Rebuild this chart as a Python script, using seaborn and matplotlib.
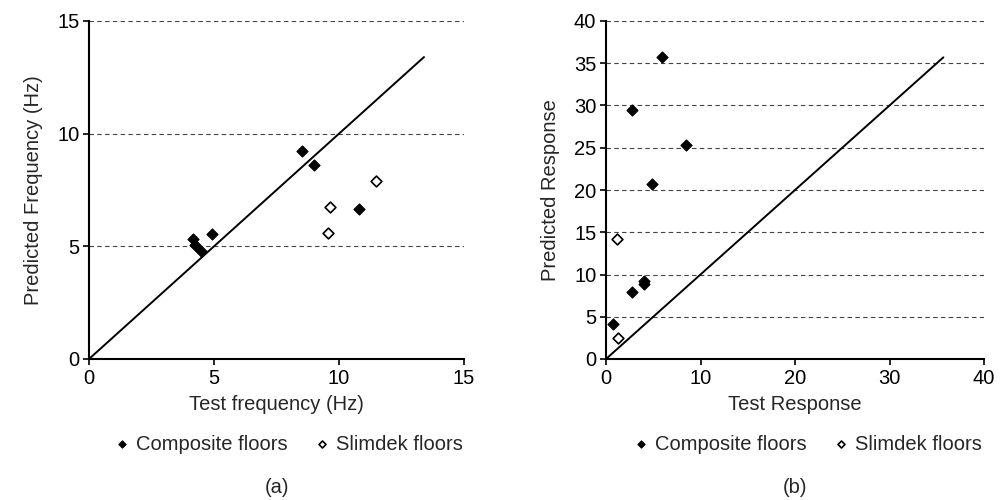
import matplotlib
matplotlib.use('Agg')
import matplotlib.pyplot as plt
import seaborn as sns
import pandas as pd

sns.set_style('white')
plt.rcParams['font.family'] = ['Liberation Sans', 'DejaVu Sans']

# (a) frequency data
freq_comp_test = [4.15, 4.24, 4.47, 4.93, 8.51, 9.01, 10.81]
freq_comp_pred = [5.33, 5.05, 4.79, 5.56, 9.25, 8.63, 6.67]
freq_slim_test = [11.48, 9.64, 9.56]
freq_slim_pred = [7.90, 6.75, 5.61]
freq_line = [0, 13.4]

# (b) response data
resp_comp_test = [5.93, 2.75, 8.47, 4.90, 2.72, 4.02, 4.02, 0.70]
resp_comp_pred = [35.7, 29.45, 25.3, 20.7, 7.98, 9.24, 8.85, 4.13]
resp_slim_test = [1.13, 1.30]
resp_slim_pred = [14.24, 2.44]
resp_line = [0, 35.7]

fs = 14.5
fig = plt.figure(figsize=(10, 5), dpi=100)
ax1 = fig.add_axes([0.089, 0.282, 0.375, 0.676])
ax2 = fig.add_axes([0.606, 0.282, 0.378, 0.676])


def draw_panel(ax, ct, cp, st, sp, line, lim, xstep, ystep, xlabel, ylabel, tag):
    df_c = pd.DataFrame({'x': ct, 'y': cp})
    df_s = pd.DataFrame({'x': st, 'y': sp})
    sns.lineplot(x=line, y=line, ax=ax, color='black', lw=1.4, zorder=2)
    sns.scatterplot(data=df_c, x='x', y='y', ax=ax, marker='D', s=32,
                    color='black', edgecolor='black', linewidth=0.8,
                    label='Composite floors', zorder=3)
    sns.scatterplot(data=df_s, x='x', y='y', ax=ax, marker='D', s=30,
                    facecolor='white', edgecolor='black', linewidth=1.2,
                    label='Slimdek floors', zorder=3)
    ax.set_xlim(0, lim)
    ax.set_ylim(0, lim)
    ax.set_xticks(range(0, lim + 1, xstep))
    ax.set_yticks(range(0, lim + 1, ystep))
    ax.yaxis.grid(True, linestyle=(0, (4, 3)), color='#444444', lw=0.8)
    ax.xaxis.grid(False)
    for side in ['top', 'right']:
        ax.spines[side].set_visible(False)
    for side in ['left', 'bottom']:
        ax.spines[side].set_color('black')
        ax.spines[side].set_linewidth(1.5)
    ax.tick_params(direction='out', length=4, width=1.2, colors='black',
                   labelsize=fs, left=True, bottom=True, pad=3)
    ax.set_xlabel(xlabel, fontsize=fs, labelpad=5)
    ax.set_ylabel(ylabel, fontsize=fs, labelpad=10)
    ax.legend(loc='upper center', bbox_to_anchor=(0.53, -0.17), ncol=2,
              frameon=False, fontsize=fs, markerscale=0.65,
              handletextpad=0.2, columnspacing=1.2, handlelength=1)
    ax.text(0.5, -0.38, tag, transform=ax.transAxes, ha='center', va='center',
            fontsize=fs)


draw_panel(ax1, freq_comp_test, freq_comp_pred, freq_slim_test, freq_slim_pred,
           freq_line, 15, 5, 5, 'Test frequency (Hz)', 'Predicted Frequency (Hz)', '(a)')
draw_panel(ax2, resp_comp_test, resp_comp_pred, resp_slim_test, resp_slim_pred,
           resp_line, 40, 10, 5, 'Test Response', 'Predicted Response', '(b)')

fig.savefig('out.png', dpi=100)
